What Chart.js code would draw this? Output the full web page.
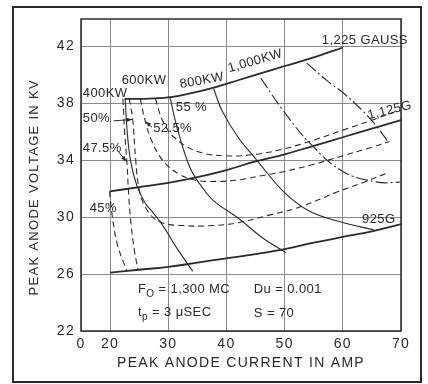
<!DOCTYPE html>
<html>
<head>
<meta charset="utf-8">
<script src="https://cdn.jsdelivr.net/npm/chart.js@4.4.1/dist/chart.umd.min.js"></script>
<style>
  html, body { margin: 0; padding: 0; background: #fff; }
</style>
</head>
<body>
<canvas id="chart" width="428" height="384"></canvas>
<script>
// tick labels (the x axis is broken: its left edge is labelled 0)
const xTickValues = [15, 20, 30, 40, 50, 60, 70];
const xTickLabels = ['0', '20', '30', '40', '50', '60', '70'];
const yTickValues = [22, 26, 30, 34, 38, 42];

// magnetic field lines, [amp, kV]
const gauss1225 = [[22.5, 38.3], [26, 38.3], [30, 38.4], [34, 38.7], [38, 39.1], [42, 39.6], [46, 40.1], [50, 40.6], [55, 41.2], [60, 41.9]];
const gauss1125 = [[20, 31.8], [25, 32.1], [30, 32.4], [35, 32.8], [40, 33.3], [45, 33.9], [50, 34.4], [55, 35.0], [60, 35.6], [65, 36.2], [70, 36.8]];
const gauss925 = [[20, 26.1], [25, 26.3], [30, 26.5], [35, 26.8], [40, 27.1], [45, 27.4], [50, 27.75], [55, 28.2], [60, 28.6], [65, 29.0], [70, 29.5]];

// power output lines
const kw400 = [[22.6, 38.3], [22.9, 36.2], [23.5, 34], [24.6, 32.2], [26, 31], [27.2, 30.4], [28.9, 29.5], [31.5, 27.8], [34.2, 26.2]];
const kw600 = [[30.3, 38.4], [31.5, 36.3], [33.7, 33.5], [35.8, 32.1], [37.9, 31.1], [42.1, 29.9], [46, 28.6], [50.2, 27.5]];
const kw800 = [[37.8, 39.0], [39.2, 37.5], [42, 35.6], [45.2, 34], [49.9, 31.75], [54.3, 30.4], [59.7, 29.65], [65.3, 29.1]];
const kw1000 = [[45.9, 39.75], [49.7, 37.5], [54.3, 35.2], [60, 33.2], [65.9, 32.45], [69.8, 32.45]];
const kwTop = [[53.8, 40.8], [57.5, 39.5], [60.4, 38.6], [64.7, 36.9], [67.6, 35.4]];

// efficiency lines
const eff55 = [[27.8, 38.3], [29, 36.8], [31, 35.6], [35, 34.6], [40, 34.3], [45, 34.4], [50, 34.8], [55, 35.4], [60, 36.1], [65, 36.8], [69, 37.4]];
const eff525 = [[25.2, 38.3], [26, 36.8], [27.2, 35.3], [29, 34], [31.5, 33.1], [34.5, 32.6], [38, 32.5], [42, 32.6], [46, 32.9], [50, 33.2], [55, 33.7], [60, 34.3], [65, 34.9], [68, 35.3]];
const eff50 = [[23.3, 38.3], [23.9, 36.8], [24.4, 34], [25.1, 31.75], [26.5, 30.4], [28.6, 29.65], [32.5, 29.4], [37.7, 29.4], [42, 29.6], [47, 30.1], [52.6, 30.7], [59, 31.75], [64, 32.5], [67.7, 33.1]];
const eff475 = [[22.2, 38.3], [22.5, 36], [22.9, 33.8], [23.2, 31.5], [23.6, 29.5], [24.2, 27.6], [24.8, 26.3]];
const eff45 = [[19.9, 31.8], [20.4, 30], [21.3, 28], [22.9, 26.2]];

const ink = '#2a2a2a';
const font = '"Liberation Sans", Arial, sans-serif';

const toXY = pts => pts.map(([x, y]) => ({x, y}));
const line = (label, pts, width, dash) => ({
    label,
    data: toXY(pts),
    showLine: true,
    borderColor: ink,
    borderWidth: width,
    borderDash: dash || [],
    pointRadius: 0,
    tension: 0.4,
    fill: false
});

// notes written on the chart, placed in data units
const notes = [
    {runs: [['1,225 GAUSS']], x: 56.4, y: 42.4},
    {runs: [['1,125G']], x: 64.3, y: 37.1, rot: -14},
    {runs: [['925G']], x: 63.3, y: 29.8},
    {runs: [['400KW']], x: 15.3, y: 38.7},
    {runs: [['600KW']], x: 22.0, y: 39.6},
    {runs: [['800KW']], x: 32.0, y: 39.3, rot: -10},
    {runs: [['1,000KW']], x: 40.3, y: 40.4, rot: -16},
    {runs: [['55 %']], x: 31.3, y: 37.7},
    {runs: [['52.5%']], x: 27.4, y: 36.2},
    {runs: [['50%']], x: 15.3, y: 36.9},
    {runs: [['47.5%']], x: 15.3, y: 34.8},
    {runs: [['45%']], x: 16.5, y: 30.6},
    {runs: [['F'], ['O', 'sub'], [' = 1,300 MC']], x: 24.8, y: 24.9},
    {runs: [['Du = 0.001']], x: 44.7, y: 24.95},
    {runs: [['t'], ['p', 'sub'], [' = 3 \u03bcSEC']], x: 24.8, y: 23.3},
    {runs: [['S = 70']], x: 44.7, y: 23.26}
];

// leader arrows from a label to its curve
const arrows = [
    {from: [20.6, 36.75], to: [23.8, 36.85]},
    {from: [21.4, 34.6], to: [22.8, 33.9]},
    {from: [27.2, 36.3], to: [26.1, 36.7]}
];

const decor = {
    id: 'decor',
    beforeDraw(chart) {
        const ctx = chart.ctx;
        ctx.save();
        ctx.fillStyle = '#fff';
        ctx.fillRect(0, 0, chart.width, chart.height);
        ctx.restore();
        // the lettering on the original is widely spaced
        ctx.letterSpacing = '1.3px';
    },
    afterDraw(chart) {
        const {ctx, chartArea: a, scales: {x, y}} = chart;
        ctx.save();
        ctx.strokeStyle = ink;
        ctx.lineWidth = 2;
        ctx.strokeRect(13, 7, 408, 375);
        ctx.lineWidth = 1.5;
        ctx.strokeRect(a.left, a.top, a.right - a.left, a.bottom - a.top);

        ctx.fillStyle = ink;
        ctx.lineWidth = 1;
        arrows.forEach(({from, to}) => {
            const x0 = x.getPixelForValue(from[0]), y0 = y.getPixelForValue(from[1]);
            const x1 = x.getPixelForValue(to[0]), y1 = y.getPixelForValue(to[1]);
            const ang = Math.atan2(y1 - y0, x1 - x0);
            ctx.beginPath();
            ctx.moveTo(x0, y0);
            ctx.lineTo(x1, y1);
            ctx.stroke();
            ctx.beginPath();
            ctx.moveTo(x1, y1);
            ctx.lineTo(x1 - 6 * Math.cos(ang - 0.35), y1 - 6 * Math.sin(ang - 0.35));
            ctx.lineTo(x1 - 6 * Math.cos(ang + 0.35), y1 - 6 * Math.sin(ang + 0.35));
            ctx.closePath();
            ctx.fill();
        });

        ctx.textBaseline = 'middle';
        ctx.letterSpacing = '0.4px';
        notes.forEach(n => {
            ctx.save();
            ctx.translate(x.getPixelForValue(n.x), y.getPixelForValue(n.y));
            if (n.rot) ctx.rotate(n.rot * Math.PI / 180);
            let cx = 0;
            n.runs.forEach(([t, kind]) => {
                ctx.font = (kind === 'sub' ? '10px ' : '13px ') + font;
                ctx.fillText(t, cx, kind === 'sub' ? 5 : 0);
                cx += ctx.measureText(t).width;
            });
            ctx.restore();
        });
        ctx.restore();
        ctx.letterSpacing = '0px';
    }
};

const dashDot = [12, 3, 2, 3];

new Chart(document.getElementById('chart'), {
    type: 'scatter',
    data: {
        datasets: [
            line('1225 G', gauss1225, 1.8),
            line('1125 G', gauss1125, 1.8),
            line('925 G', gauss925, 1.8),
            line('400 KW', kw400, 1.1),
            line('600 KW', kw600, 1.1),
            line('800 KW', kw800, 1.1),
            line('1000 KW', kw1000, 1.1, dashDot),
            line('top KW', kwTop, 1.1, dashDot),
            line('55 %', eff55, 1.1, [6, 4]),
            line('52.5 %', eff525, 1.1, [6, 4]),
            line('50 %', eff50, 1.1, [6, 4]),
            line('47.5 %', eff475, 1.1, [6, 4]),
            line('45 %', eff45, 1.1, [6, 4])
        ]
    },
    options: {
        responsive: false,
        animation: false,
        devicePixelRatio: 1,
        layout: {padding: {top: 19, right: 27, left: 0, bottom: 0}},
        plugins: {legend: {display: false}, tooltip: {enabled: false}},
        scales: {
            x: {
                type: 'linear',
                min: 15,
                max: 70,
                afterBuildTicks: s => { s.ticks = xTickValues.map(value => ({value})); },
                afterFit: s => { s.height = 53; },
                grid: {color: '#8a8a8a', lineWidth: 1, drawTicks: false},
                border: {display: false},
                ticks: {
                    color: ink,
                    padding: 5,
                    font: {family: font, size: 14},
                    callback: (v, i) => xTickLabels[i]
                },
                title: {
                    display: true,
                    text: 'PEAK ANODE CURRENT IN AMP',
                    color: ink,
                    font: {family: font, size: 14},
                    padding: {top: 0, bottom: 12}
                }
            },
            y: {
                type: 'linear',
                min: 22,
                max: 43.9,
                afterBuildTicks: s => { s.ticks = yTickValues.map(value => ({value})); },
                afterFit: s => { s.width = 81; },
                grid: {color: '#8a8a8a', lineWidth: 1, drawTicks: false},
                border: {display: false},
                ticks: {
                    color: ink,
                    padding: 6,
                    font: {family: font, size: 14}
                },
                title: {
                    display: true,
                    text: 'PEAK ANODE VOLTAGE IN KV     ',
                    color: ink,
                    font: {family: font, size: 13},
                    padding: {top: 27, bottom: 0}
                }
            }
        }
    },
    plugins: [decor]
});
</script>
</body>
</html>
